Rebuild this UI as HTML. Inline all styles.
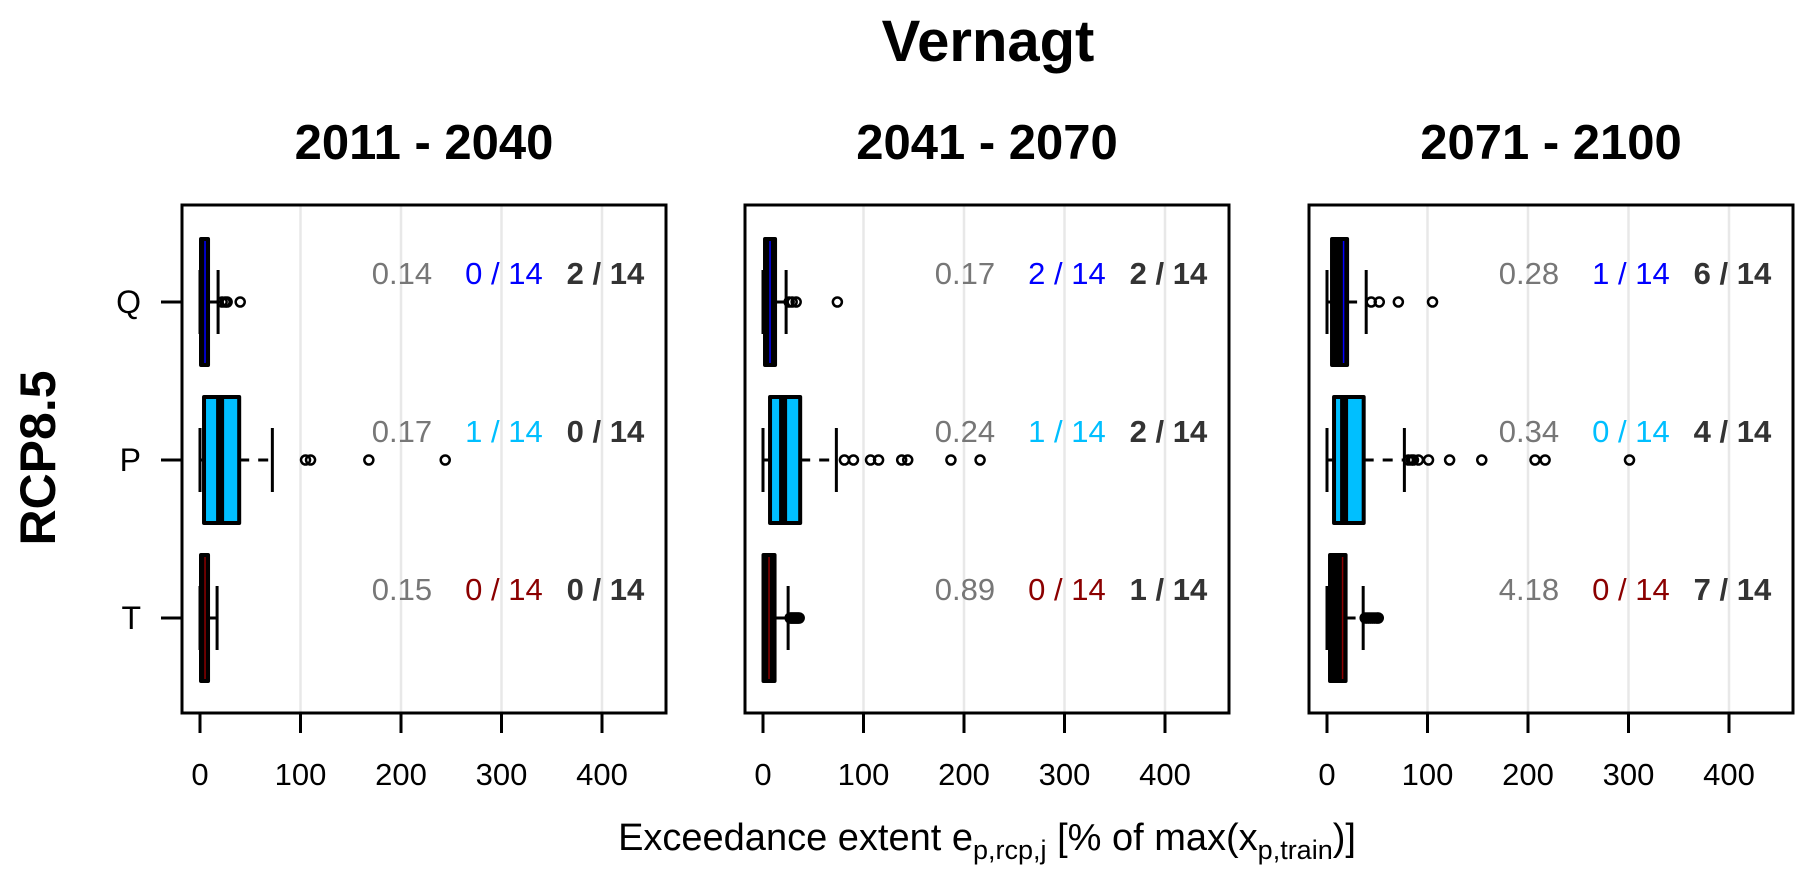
<!DOCTYPE html>
<html><head><meta charset="utf-8"><style>
html,body{margin:0;padding:0;background:#fff;}
svg{display:block;font-family:"Liberation Sans",Arial,sans-serif;}
</style></head><body>
<svg id="chart" width="1813" height="883" viewBox="0 0 1813 883" xmlns="http://www.w3.org/2000/svg">
<text x="988" y="61" font-size="58" font-weight="bold" text-anchor="middle">Vernagt</text>
<text transform="translate(55,458) rotate(-90)" font-size="50" font-weight="bold" text-anchor="middle">RCP8.5</text>
<text x="987" y="850" font-size="38" text-anchor="middle">Exceedance extent e<tspan font-size="27" dy="9">p,rcp,j</tspan><tspan dy="-9"> [% of max(x</tspan><tspan font-size="27" dy="9">p,train</tspan><tspan dy="-9">)]</tspan></text>
<g id="panels"></g>
</svg>
<script>
const periods = ["2011 - 2040", "2041 - 2070", "2071 - 2100"];
const variables = ["Q", "P", "T"];
const xTicks = [0, 100, 200, 300, 400];
// per panel, per variable: [lowWhisker, q1, median, q3, highWhisker]
const statsP1 = [[0, 1, 5, 8, 18], [0, 4, 20, 39, 72], [0, 1, 5, 8, 17]];
const statsP2 = [[0, 2, 7, 12, 23], [0, 7, 20, 37, 73], [0, 0.5, 6, 11.5, 25]];
const statsP3 = [[0, 5, 16.5, 20, 39], [0, 7, 17, 36.5, 77], [0, 3, 15.5, 18.5, 36]];
const outP1 = [[22, 25, 27, 40], [105, 110, 168, 244], []];
const outP2 = [[26, 29, 33, 74], [81, 90, 107, 115, 138, 144, 187, 216], [27, 28, 29, 30, 31, 32, 33, 34, 35, 36]];
const outP3 = [[44, 52, 71, 105], [81, 84, 86, 91, 101, 122, 154, 207, 217, 301], [38, 40, 42, 44, 46, 48, 50, 51]];
const ratioVals = [["0.14", "0.17", "0.15"], ["0.17", "0.24", "0.89"], ["0.28", "0.34", "4.18"]];
const countA = [["0 / 14", "1 / 14", "0 / 14"], ["2 / 14", "1 / 14", "0 / 14"], ["1 / 14", "0 / 14", "0 / 14"]];
const countB = [["2 / 14", "0 / 14", "0 / 14"], ["2 / 14", "2 / 14", "1 / 14"], ["6 / 14", "4 / 14", "7 / 14"]];

const allStats = [statsP1, statsP2, statsP3];
const allOut = [outP1, outP2, outP3];
const varFill = ["#000000", "#00bfff", "#000000"];
const varMed = ["#0000ff", "#000000", "#8b0000"];
const varText = ["#0000ff", "#00bfff", "#8b0000"];
const panelLeft = [182, 745, 1309];
const PW = 484, PT = 205, PB = 713;
const NS = "http://www.w3.org/2000/svg";
const root = document.getElementById("panels");
function mk(tag, attrs, parent) {
  const e = document.createElementNS(NS, tag);
  for (const k in attrs) e.setAttribute(k, attrs[k]);
  parent.appendChild(e);
  return e;
}
function yRow(i) { return 302 + i * 158; }

periods.forEach((per, p) => {
  const L = panelLeft[p];
  const xS = v => L + 18 + v * 1.005;
  const g = mk("g", {}, root);
  
  
  const t = mk("text", {x: L + PW / 2, y: 159, "font-size": 49, "font-weight": "bold", "text-anchor": "middle"}, g);
  t.textContent = per;
  
  
  xTicks.forEach(v => {
    if (v > 0) {
      const gl = mk("line", {x1: xS(v), x2: xS(v), y1: PT, y2: PB, stroke: "#e8e8e8", "stroke-width": 2.5}, g);
      
      
    }
    const tk = mk("line", {x1: xS(v), x2: xS(v), y1: PB, y2: PB + 20, stroke: "#000", "stroke-width": 3}, g);
    
    
    const tl = mk("text", {x: xS(v), y: 785, "font-size": 31, "text-anchor": "middle"}, g);
    tl.textContent = v;
    
    
  });
  variables.forEach((vn, i) => {
    const y = yRow(i);
    const s = allStats[p][i];
    const bx = mk("g", {}, g);
    
    
    const dash = {stroke: "#000", "stroke-width": 3, "stroke-dasharray": "10,9"};
    mk("line", Object.assign({x1: xS(s[0]), x2: xS(s[1]), y1: y, y2: y}, dash), bx);
    mk("line", Object.assign({x1: xS(s[3]), x2: xS(s[4]), y1: y, y2: y}, dash), bx);
    mk("line", {x1: xS(s[0]), x2: xS(s[0]), y1: y - 32, y2: y + 32, stroke: "#000", "stroke-width": 3}, bx);
    mk("line", {x1: xS(s[4]), x2: xS(s[4]), y1: y - 32, y2: y + 32, stroke: "#000", "stroke-width": 3}, bx);
    mk("rect", {x: xS(s[1]), y: y - 63, width: Math.max(xS(s[3]) - xS(s[1]), 1), height: 126, fill: varFill[i], stroke: "#000", "stroke-width": 4, "stroke-linejoin": "round"}, bx);
    mk("line", {x1: xS(s[2]), x2: xS(s[2]), y1: y - 61, y2: y + 61, stroke: varMed[i], "stroke-width": i === 1 ? 8 : 1.5}, bx);
    allOut[p][i].forEach(o => {
      const c = mk("circle", {cx: xS(o), cy: y, r: 4.5, fill: "none", stroke: "#000", "stroke-width": 2.5}, bx);
      
      
    });
    const a = mk("text", {x: xS(231), y: y - 18, "font-size": 31, fill: "#777", "text-anchor": "end"}, g);
    a.textContent = ratioVals[p][i];
    
    
    const b = mk("text", {x: xS(341), y: y - 18, "font-size": 31, fill: varText[i], "text-anchor": "end"}, g);
    b.textContent = countA[p][i];
    
    
    const c2 = mk("text", {x: xS(442), y: y - 18, "font-size": 31, "font-weight": "bold", fill: "#333", "text-anchor": "end"}, g);
    c2.textContent = countB[p][i];
    
    
    if (p === 0) {
      const yt = mk("line", {x1: 161, x2: 182, y1: y, y2: y, stroke: "#000", "stroke-width": 3}, g);
      
      
      const yl = mk("text", {x: 141, y: y + 11, "font-size": 32, "text-anchor": "end"}, g);
      yl.textContent = vn;
      
      
    }
  });
  const fr = mk("rect", {x: L, y: PT, width: PW, height: PB - PT, fill: "none", stroke: "#000", "stroke-width": 3}, g);
  
  
});
</script>
</body></html>
